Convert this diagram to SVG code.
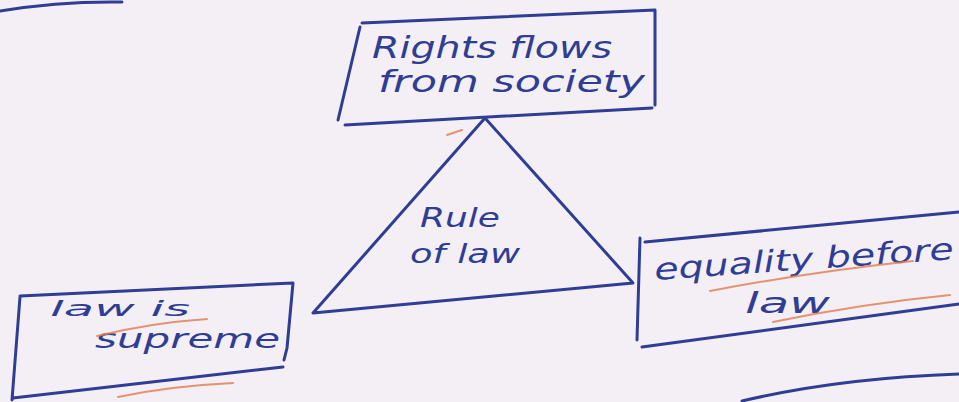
<svg xmlns="http://www.w3.org/2000/svg" width="959" height="402" viewBox="0 0 959 402">
<style>
.ink{fill:none;stroke:#2f3d94;stroke-width:3;stroke-linecap:round;stroke-linejoin:round}
.hl{fill:none;stroke:#e0825a;stroke-width:2;stroke-linecap:round;opacity:0.85}
.t{font-family:"DejaVu Sans","Liberation Sans",sans-serif;font-style:italic;fill:#2f3d94}
</style>
<rect width="959" height="402" fill="#f4eff4"/>
<g id="fragments">
<path class="ink" d="M0 11 Q60 1 122 2"/>
<path class="ink" d="M742 401 Q840 378 959 374"/>
</g>
<g id="connectors">
<path class="hl" d="M447 135 L462 130"/>
</g>
<g id="node-rights">
<path class="ink" d="M362 23 L655 10 L655 105 M360 27 L338 120 M345 125 L652 108"/>
<text class="t" x="372" y="58" font-size="30" textLength="240" lengthAdjust="spacingAndGlyphs">Rights flows</text>
<text class="t" x="378" y="92" font-size="30" textLength="267" lengthAdjust="spacingAndGlyphs">from society</text>
</g>
<g id="node-rule">
<path class="ink" d="M485 118 L313 313 L633 283 Z"/>
<text class="t" x="420" y="227" font-size="26" textLength="80" lengthAdjust="spacingAndGlyphs">Rule</text>
<text class="t" x="410" y="263" font-size="26" textLength="110" lengthAdjust="spacingAndGlyphs">of law</text>
</g>
<g id="node-supreme">
<path class="ink" d="M20 296 L293 283 L287 348 L284 360 M20 297 L12 400 M13 398 L283 367"/>
<text class="t" x="50" y="316" font-size="22" textLength="140" lengthAdjust="spacingAndGlyphs">law is</text>
<text class="t" x="95" y="348" font-size="26" textLength="185" lengthAdjust="spacingAndGlyphs">supreme</text>
<path class="hl" d="M97 336 Q150 323 207 319"/>
<path class="hl" d="M118 397 Q170 386 233 383"/>
</g>
<g id="node-equality">
<path class="ink" d="M640 238 L637 340 M645 242 L959 212 M642 347 L959 304"/>
<text class="t" x="655" y="280" font-size="30" textLength="300" lengthAdjust="spacingAndGlyphs" transform="rotate(-4 655 280)">equality before</text>
<text class="t" x="745" y="313" font-size="28" textLength="85" lengthAdjust="spacingAndGlyphs">law</text>
<path class="hl" d="M710 291 Q810 272 913 261"/>
<path class="hl" d="M773 322 Q860 304 950 295"/>
</g>
</svg>
